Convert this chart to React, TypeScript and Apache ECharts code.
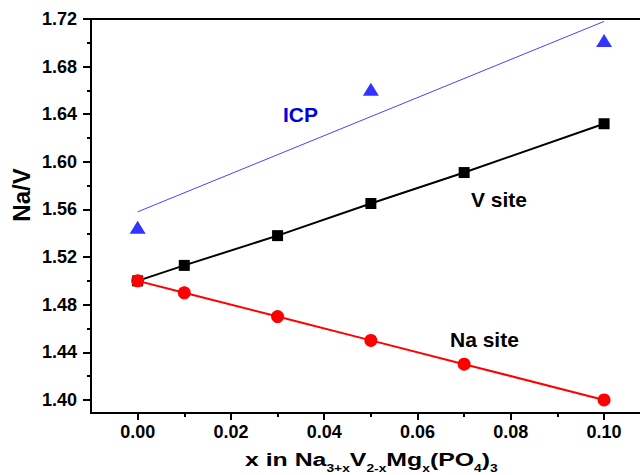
import React, { useEffect, useRef } from "react";
import * as echarts from "echarts";

const naSiteX = [0.0, 0.01, 0.03, 0.05, 0.07, 0.1];
const naSiteY = [1.5, 1.49, 1.47, 1.45, 1.43, 1.4];
const vSiteX = [0.0, 0.01, 0.03, 0.05, 0.07, 0.1];
const vSiteY = [1.5, 1.513, 1.538, 1.565, 1.591, 1.632];
const icpX = [0.0, 0.05, 0.1];
const icpY = [1.545, 1.661, 1.702];
const icpFitX = [0.0, 0.1];
const icpFitY = [1.558, 1.718];
const yMajor = [1.4, 1.44, 1.48, 1.52, 1.56, 1.6, 1.64, 1.68, 1.72];
const yMinor = [1.42, 1.46, 1.5, 1.54, 1.58, 1.62, 1.66, 1.7];
const xMajor = [0.0, 0.02, 0.04, 0.06, 0.08, 0.1];
const xMinor = [0.01, 0.03, 0.05, 0.07, 0.09];

const zip = (xs: number[], ys: number[]) => xs.map((x, i) => [x, ys[i]]);

export default function App() {
  const ref = useRef<HTMLDivElement>(null);
  useEffect(() => {
    const chart = echarts.init(ref.current!, null, { renderer: "svg" });
    const font = "'Liberation Sans', Arial, sans-serif";
    const X_MIN = -0.01;
    const X_MAX = 0.1077;
    const Y_MIN = 1.389;
    const Y_MAX = 1.72;
    const black = "#000";
    chart.setOption({
      animation: false,
      backgroundColor: "#fff",
      grid: { left: 91, right: 0, top: 19, bottom: 62, outerBoundsMode: "none", containLabel: false },
      xAxis: [
        {
          type: "value",
          min: X_MIN,
          max: X_MAX,
          position: "bottom",
          axisLine: { show: true, onZero: false, lineStyle: { color: black, width: 2 } },
          axisTick: { show: true, inside: false, length: 7, lineStyle: { width: 2, color: black }, customValues: xMajor },
          minorTick: { show: false },
          splitLine: { show: false },
          axisLabel: {
            margin: 10,
            fontFamily: font,
            fontWeight: "bold",
            fontSize: 18,
            color: black,
            customValues: xMajor,
            formatter: (v: number) => v.toFixed(2),
          },
        },
        {
          type: "value",
          min: X_MIN,
          max: X_MAX,
          position: "top",
          axisLine: { show: true, onZero: false, lineStyle: { color: black, width: 2 } },
          axisTick: { show: false },
          axisLabel: { show: false },
          splitLine: { show: false },
        },
        {
          type: "value",
          min: X_MIN,
          max: X_MAX,
          position: "bottom",
          axisLine: { show: false, onZero: false },
          axisTick: { show: true, inside: false, length: 4, lineStyle: { width: 2, color: black }, customValues: xMinor },
          axisLabel: { show: false },
          splitLine: { show: false },
        },
      ],
      yAxis: [
        {
          type: "value",
          min: Y_MIN,
          max: Y_MAX,
          position: "left",
          axisLine: { show: true, onZero: false, lineStyle: { color: black, width: 2 } },
          axisTick: { show: true, length: 8, lineStyle: { width: 2, color: black }, customValues: yMajor },
          minorTick: { show: false },
          splitLine: { show: false },
          axisLabel: {
            margin: 14,
            fontFamily: font,
            fontWeight: "bold",
            fontSize: 18,
            color: black,
            customValues: yMajor,
            formatter: (v: number) => v.toFixed(2),
          },
        },
        {
          type: "value",
          min: Y_MIN,
          max: Y_MAX,
          position: "left",
          axisLine: { show: false, onZero: false },
          axisTick: { show: true, length: 4, lineStyle: { width: 2, color: black }, customValues: yMinor },
          axisLabel: { show: false },
          splitLine: { show: false },
        },
      ],
      series: [
        {
          type: "line",
          data: zip(icpFitX, icpFitY),
          showSymbol: false,
          symbol: "none",
          lineStyle: { color: "#4444ff", width: 1 },
          z: 1,
        },
        {
          type: "scatter",
          data: zip(icpX, icpY),
          symbol: "triangle",
          symbolSize: [16, 13],
          itemStyle: { color: "#0000ff" },
          z: 3,
        },
        {
          type: "line",
          data: zip(vSiteX, vSiteY),
          symbol: "rect",
          symbolSize: 11,
          lineStyle: { color: black, width: 2 },
          itemStyle: { color: black },
          z: 2,
        },
        {
          type: "line",
          data: zip(naSiteX, naSiteY),
          symbol: "circle",
          symbolSize: 13,
          lineStyle: { color: "#ff0000", width: 2 },
          itemStyle: { color: "#ff0000" },
          z: 2,
        },
      ],
      graphic: [
        {
          type: "text",
          x: 21,
          y: 195,
          rotation: Math.PI / 2,
          style: {
            text: "Na/V",
            fill: black,
            font: `bold 24px ${font}`,
            align: "center",
            verticalAlign: "middle",
          },
        },
        {
          type: "text",
          x: 245,
          y: 449,
          scaleX: 1.38,
          style: {
            text: "{a|x in Na}{s|3+x}{a|V}{s|2-x}{a|Mg}{s|x}{a|(PO}{s|4}{a|)}{s|3}",
            align: "left",
            verticalAlign: "top",
            rich: {
              a: { fontFamily: font, fontWeight: "bold", fontSize: 18, fill: black, verticalAlign: "bottom", lineHeight: 20 },
              s: { fontFamily: font, fontWeight: "bold", fontSize: 10, fill: black, verticalAlign: "bottom", lineHeight: 10, padding: [0, 0, -5, 0] },
            },
          },
        },
        {
          type: "text",
          left: 283,
          top: 104,
          style: { text: "ICP", fill: "#0000e0", font: `bold 21px ${font}` },
        },
        {
          type: "text",
          left: 471,
          top: 189,
          style: { text: "V site", fill: black, font: `bold 21px ${font}` },
        },
        {
          type: "text",
          left: 450,
          top: 329,
          style: { text: "Na site", fill: black, font: `bold 21px ${font}` },
        },
      ],
    });
    return () => chart.dispose();
  }, []);
  return <div ref={ref} style={{ width: 640, height: 475, position: "absolute", left: 0, top: 0 }} />;
}
